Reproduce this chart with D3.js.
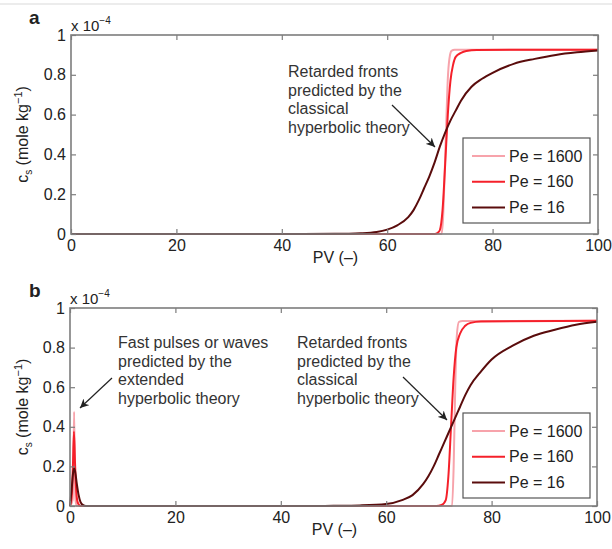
<!DOCTYPE html>
<html>
<head>
<meta charset="utf-8">
<script src="https://cdnjs.cloudflare.com/ajax/libs/d3/7.8.5/d3.min.js"></script>
<style>
  body { margin: 0; background: #fff; }
  svg { font-family: "Liberation Sans", Arial, sans-serif; }
</style>
</head>
<body>
<div id="fig"></div>
<script>
// ticks
var xTicks = [0, 20, 40, 60, 80, 100];
var yTicks = [0, 0.2, 0.4, 0.6, 0.8, 1];
var seriesNames = ["Pe = 1600", "Pe = 160", "Pe = 16"];
var seriesColors = ["#f7a3ab", "#f5202a", "#5a0c0c"];

// panel a, [PV, cs x 1e-4]
var a1600 = [[0,0],[70.3,0],[70.6,0.08],[70.9,0.3],[71.2,0.55],[71.5,0.78],[71.8,0.88],[72.2,0.92],[72.8,0.926],[100,0.926]];
var a160 = [[0,0],[69,0],[69.6,0.006],[70,0.02],[70.5,0.12],[71,0.35],[71.5,0.6],[72,0.77],[72.5,0.85],[73,0.89],[74,0.91],[75,0.92],[77,0.925],[100,0.926]];
var a16 = [[0,0],[40,0],[50,0.001],[55,0.004],[58,0.01],[60,0.022],[62,0.045],[64,0.085],[65,0.12],[66,0.17],[67,0.23],[68,0.29],[69,0.36],[70,0.44],[71,0.51],[72,0.57],[73,0.62],[74,0.67],[76,0.74],[78,0.78],[80,0.81],[84,0.855],[88,0.88],[92,0.9],[96,0.913],[100,0.922]];

// panel b
var b1600 = [[0,0],[0.5,0.03],[0.65,0.2],[0.78,0.476],[0.9,0.2],[1.05,0.03],[1.3,0],[72.5,0],[72.8,0.2],[73.1,0.6],[73.4,0.86],[73.8,0.93],[74.5,0.934],[100,0.935]];
var b160 = [[0,0],[0.35,0.06],[0.55,0.2],[0.75,0.375],[0.95,0.22],[1.2,0.07],[1.5,0.015],[2,0],[69.5,0],[70.5,0.005],[71.3,0.03],[71.8,0.15],[72.3,0.4],[72.8,0.65],[73.3,0.8],[74,0.87],[75,0.91],[76,0.925],[78,0.932],[100,0.935]];
var b16 = [[0,0],[0.3,0.08],[0.6,0.17],[0.8,0.19],[1.0,0.17],[1.3,0.11],[1.6,0.06],[2,0.02],[2.5,0.004],[3,0],[45,0],[50,0.001],[55,0.003],[60,0.01],[63,0.03],[65,0.055],[67,0.11],[68,0.15],[69,0.2],[70,0.26],[71,0.32],[72,0.38],[73,0.44],[74,0.5],[75,0.56],[76,0.61],[78,0.68],[80,0.74],[84,0.81],[88,0.86],[92,0.89],[96,0.915],[100,0.93]];

var annA = ["Retarded fronts", "predicted by the", "classical", "hyperbolic theory"];
var annB1 = ["Fast pulses or waves", "predicted by the", "extended", "hyperbolic theory"];
var annB2 = ["Retarded fronts", "predicted by the", "classical", "hyperbolic theory"];

var width = 612, height = 549;
var textCol = "#222";
var axisCol = "#7d7d7d";

var svg = d3.select("#fig").append("svg")
  .attr("width", width).attr("height", height);

svg.append("defs").append("marker")
  .attr("id", "arrow")
  .attr("viewBox", "0 0 10 10")
  .attr("refX", 10).attr("refY", 5)
  .attr("markerWidth", 9).attr("markerHeight", 9)
  .attr("markerUnits", "userSpaceOnUse")
  .attr("orient", "auto")
  .append("path").attr("d", "M0,0L10,5L0,10L3,5Z").attr("fill", "#222");

// faint frame line at the very top
svg.append("line").attr("x1", 0).attr("x2", width).attr("y1", 4).attr("y2", 4)
  .attr("stroke", "#e6e6e6").attr("stroke-width", 1.5);

function panel(opt) {
  var x = d3.scaleLinear().domain([0, 100]).range([opt.left, opt.right]);
  var y = d3.scaleLinear().domain([0, 1]).range([opt.bottom, opt.top]);
  var g = svg.append("g");

  // curves
  var line = d3.line().curve(d3.curveMonotoneX)
    .x(function(d) { return x(d[0]); }).y(function(d) { return y(d[1]); });
  opt.series.forEach(function(s, i) {
    g.append("path").datum(s).attr("d", line)
      .attr("fill", "none").attr("stroke", seriesColors[i])
      .attr("stroke-width", 2).attr("stroke-linejoin", "round");
  });

  // axes with inward ticks
  var ax = [
    { a: d3.axisBottom(x).tickValues(xTicks).tickSize(-5).tickPadding(6), t: opt.bottom, h: true },
    { a: d3.axisTop(x).tickValues(xTicks).tickSize(-5).tickFormat(""), t: opt.top, h: true },
    { a: d3.axisLeft(y).tickValues(yTicks).tickSize(-5).tickPadding(5).tickFormat(d3.format("")), t: opt.left, h: false },
    { a: d3.axisRight(y).tickValues(yTicks).tickSize(-5).tickFormat(""), t: opt.right, h: false }
  ];
  ax.forEach(function(o) {
    var ag = g.append("g")
      .attr("transform", o.h ? "translate(0," + o.t + ")" : "translate(" + o.t + ",0)")
      .call(o.a);
    ag.select(".domain").remove();
    ag.selectAll(".tick line").attr("stroke", axisCol).attr("stroke-width", 1.2);
    ag.selectAll("text").attr("fill", textCol).style("font-size", "16px").style("font-family", "Liberation Sans, Arial, sans-serif");
  });
  g.append("rect")
    .attr("x", opt.left).attr("y", opt.top)
    .attr("width", opt.right - opt.left).attr("height", opt.bottom - opt.top)
    .attr("fill", "none").attr("stroke", axisCol).attr("stroke-width", 1.6);

  // panel letter
  g.append("text").attr("x", 29).attr("y", opt.top - 11)
    .attr("font-weight", "bold").attr("font-size", 19).attr("fill", textCol).text(opt.letter);

  // exponent
  var ex = g.append("text").attr("x", opt.left).attr("y", opt.top - 4)
    .attr("font-size", 15).attr("fill", textCol);
  ex.append("tspan").text("x 10");
  ex.append("tspan").attr("dy", -7).attr("font-size", 10).text("\u22124");

  // x label
  g.append("text").attr("x", (opt.left + opt.right) / 2 + 1).attr("y", opt.bottom + 29)
    .attr("text-anchor", "middle").attr("font-size", 16).attr("fill", textCol).text("PV (\u2013)");

  // y label
  var yl = g.append("text")
    .attr("transform", "translate(28," + (opt.top + opt.bottom) / 2 + ") rotate(-90)")
    .attr("text-anchor", "middle").attr("font-size", 16).attr("fill", textCol);
  yl.append("tspan").text("c");
  yl.append("tspan").attr("dy", 4).attr("font-size", 10).text("s");
  yl.append("tspan").attr("dy", -4).text("  (mole kg");
  yl.append("tspan").attr("dy", -6).attr("font-size", 11).text("\u22121");
  yl.append("tspan").attr("dy", 6).text(")");

  // annotations
  opt.notes.forEach(function(n) {
    var t = g.append("text").attr("font-size", 16).attr("fill", "#333");
    n.lines.forEach(function(s, i) {
      t.append("tspan").attr("x", n.x).attr("y", n.y + i * 18.7).text(s);
    });
    g.append("line")
      .attr("x1", n.arrow[0]).attr("y1", n.arrow[1]).attr("x2", n.arrow[2]).attr("y2", n.arrow[3])
      .attr("stroke", "#222").attr("stroke-width", 1.2).attr("marker-end", "url(#arrow)");
  });

  // legend
  var lg = g.append("g");
  lg.append("rect").attr("x", opt.legend[0]).attr("y", opt.legend[1])
    .attr("width", 127).attr("height", 85)
    .attr("fill", "#fff").attr("stroke", "#555").attr("stroke-width", 1.2);
  seriesNames.forEach(function(name, i) {
    var ly = opt.legend[1] + 18 + i * 25.7;
    lg.append("line").attr("x1", opt.legend[0] + 9).attr("x2", opt.legend[0] + 42)
      .attr("y1", ly).attr("y2", ly).attr("stroke", seriesColors[i]).attr("stroke-width", 2);
    lg.append("text").attr("x", opt.legend[0] + 46).attr("y", ly + 5.5)
      .attr("font-size", 16).attr("fill", textCol).text(name);
  });
}

panel({
  letter: "a", left: 71, right: 598, top: 35, bottom: 234,
  series: [a1600, a160, a16],
  legend: [463, 138],
  notes: [{ x: 288, y: 77, lines: annA, arrow: [392, 105, 435, 147] }]
});

panel({
  letter: "b", left: 70, right: 597, top: 308, bottom: 506,
  series: [b1600, b160, b16],
  legend: [463, 413],
  notes: [
    { x: 118, y: 348, lines: annB1, arrow: [112, 378, 80, 408] },
    { x: 297, y: 348, lines: annB2, arrow: [403, 377, 447, 420] }
  ]
});
</script>
</body>
</html>
